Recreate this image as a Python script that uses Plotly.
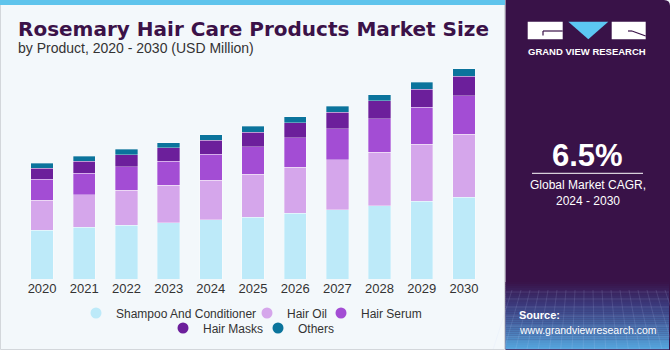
import plotly.graph_objects as go

# ---------------- data ----------------
years = ["2020", "2021", "2022", "2023", "2024", "2025", "2026", "2027", "2028", "2029", "2030"]
shampoo_conditioner = [351, 370, 385, 403, 425, 444, 471, 497, 525, 557, 587]
hair_oil = [215, 234, 251, 268, 284, 306, 330, 356, 383, 410, 449]
hair_serum = [150, 155, 167, 174, 186, 198, 210, 222, 239, 263, 277]
hair_masks = [79, 86, 88, 95, 100, 105, 110, 120, 129, 131, 140]
others = [34, 36, 38.2, 35, 37, 41, 43, 43, 45, 48, 53]

series_names = ["Shampoo And Conditioner", "Hair Oil", "Hair Serum", "Hair Masks", "Others"]
series_values = [shampoo_conditioner, hair_oil, hair_serum, hair_masks, others]
series_colors = ["#BDEAF9", "#D5A6EB", "#A34DD4", "#6C1F9B", "#0B749C"]

label_year = "2022"
cagr_text = "6.5%"
cagr_caption = "Global Market CAGR,<br>2024 - 2030"

# ---------------- layout geometry (pixels) ----------------
W, H = 670, 350
L, R, T, B = 21, 485, 60, 279


def px(x):
    return (x - L) / (R - L)


def py(y):
    return (B - y) / (B - T)


FONT = "Liberation Sans, Arial, sans-serif"

fig = go.Figure()

for name, vals, col in zip(series_names, series_values, series_colors):
    fig.add_trace(go.Bar(
        x=years, y=vals, name=name, marker_color=col,
        marker_line_width=0.6, marker_line_color="rgba(255,255,255,0.55)",
        showlegend=False,
    ))

# legend entries (circle markers); one small legend per entry, laid out in two centred rows
legend_ids = ["legend", "legend2", "legend3", "legend4", "legend5"]
legend_pos = [(98, 313), (269, 313), (343, 313), (185, 328), (280, 328)]  # marker centre, px
for name, col, lid in zip(series_names, series_colors, legend_ids):
    fig.add_trace(go.Scatter(
        x=[years[0]], y=[None], mode="markers", name=name,
        marker=dict(symbol="circle", size=11, color=col),
        legend=lid,
    ))

idx = years.index(label_year)
total = sum(v[idx] for v in series_values)

shapes = []
# left card border + top stripe
shapes.append(dict(type="rect", xref="paper", yref="paper",
                   x0=px(0.5), x1=px(504.5), y0=py(349.5), y1=py(0),
                   line=dict(color="#D3D7DB", width=1), fillcolor="rgba(0,0,0,0)", layer="below"))
shapes.append(dict(type="rect", xref="paper", yref="paper",
                   x0=px(0), x1=px(505), y0=py(5), y1=py(0),
                   line=dict(width=0), fillcolor="#5FC4EC", layer="below"))

# right panel with rounded top-right corner
x0p, x1p, y0p, y1p = px(505.5), px(670), py(350), py(0)
rx = 6 / (R - L)
ry = 6 / (B - T)
path = (f"M {x0p},{y0p} L {x0p},{y1p} L {x1p - rx},{y1p} "
        f"Q {x1p},{y1p} {x1p},{y1p - ry} L {x1p},{y0p} Z")
shapes.append(dict(type="path", xref="paper", yref="paper", path=path,
                   fillcolor="#391248", line=dict(width=0), layer="below"))

# bottom gradient of panel
def lerp(c1, c2, t):
    a = [int(c1[i:i + 2], 16) for i in (1, 3, 5)]
    b = [int(c2[i:i + 2], 16) for i in (1, 3, 5)]
    return "#" + "".join(f"{round(a[k] + (b[k] - a[k]) * t):02x}" for k in range(3))

stops = [(282, "#391248"), (305, "#3B3A7C"), (350, "#55A8E0")]
n = 34
g0, g1 = 282, 349
for k in range(n):
    ya = g0 + (g1 - g0) * k / n
    yb = g0 + (g1 - g0) * (k + 1) / n
    ym = (ya + yb) / 2
    if ym <= stops[1][0]:
        c = lerp(stops[0][1], stops[1][1], (ym - stops[0][0]) / (stops[1][0] - stops[0][0]))
    else:
        c = lerp(stops[1][1], stops[2][1], (ym - stops[1][0]) / (stops[2][0] - stops[1][0]))
    shapes.append(dict(type="rect", xref="paper", yref="paper",
                       x0=px(505.5), x1=px(669), y0=py(yb + 0.3), y1=py(ya),
                       fillcolor=c, line=dict(width=0), layer="below"))

# faint grid texture
for gx in range(512, 670, 9):
    shapes.append(dict(type="line", xref="paper", yref="paper",
                       x0=px(gx), x1=px(gx + (gx - 587) * 0.25), y0=py(290), y1=py(349),
                       line=dict(color="rgba(200,220,255,0.13)", width=1), layer="below"))
for gy in [292, 299, 307, 316, 326, 337, 349]:
    shapes.append(dict(type="line", xref="paper", yref="paper",
                       x0=px(506), x1=px(669), y0=py(gy), y1=py(gy),
                       line=dict(color="rgba(200,220,255,0.13)", width=1), layer="below"))

# logo
shapes.append(dict(type="rect", xref="paper", yref="paper",
                   x0=px(527.7), x1=px(562.7), y0=py(39.3), y1=py(21.7),
                   fillcolor="white", line=dict(width=0)))
shapes.append(dict(type="line", xref="paper", yref="paper",
                   x0=px(543), x1=px(562.7), y0=py(31), y1=py(31),
                   line=dict(color="#391248", width=1.2)))
shapes.append(dict(type="line", xref="paper", yref="paper",
                   x0=px(543), x1=px(543), y0=py(31), y1=py(35.5),
                   line=dict(color="#391248", width=1.2)))
tri = (f"M {px(568.3)},{py(21.7)} L {px(608.3)},{py(21.7)} "
       f"L {px(588.3)},{py(39.3)} Z")
shapes.append(dict(type="path", xref="paper", yref="paper", path=tri,
                   fillcolor="#5CC6F2", line=dict(width=0)))
shapes.append(dict(type="rect", xref="paper", yref="paper",
                   x0=px(611.7), x1=px(645.7), y0=py(39.3), y1=py(21.7),
                   fillcolor="white", line=dict(width=0)))
shapes.append(dict(type="line", xref="paper", yref="paper",
                   x0=px(632), x1=px(645.7), y0=py(31), y1=py(36),
                   line=dict(color="#391248", width=1.2)))
shapes.append(dict(type="line", xref="paper", yref="paper",
                   x0=px(628), x1=px(632), y0=py(31), y1=py(31),
                   line=dict(color="#391248", width=1.2)))

# CAGR separator
shapes.append(dict(type="line", xref="paper", yref="paper",
                   x0=px(532), x1=px(643), y0=py(173.3), y1=py(173.3),
                   line=dict(color="white", width=1)))

annotations = [
    dict(text="<b>Rosemary Hair Care Products Market Size</b>", x=px(15.5), y=py(28.5),
         xref="paper", yref="paper", xanchor="left", yanchor="middle", showarrow=False,
         font=dict(family="DejaVu Sans, sans-serif", size=20, color="#3B1248")),
    dict(text="by Product, 2020 - 2030 (USD Million)", x=px(15.5), y=py(48),
         xref="paper", yref="paper", xanchor="left", yanchor="middle", showarrow=False,
         font=dict(family=FONT, size=14, color="#333333")),
    dict(text=f"${total:.1f}M", x=label_year, y=total, xref="x", yref="y",
         xanchor="center", yanchor="bottom", yshift=6, showarrow=False,
         font=dict(family=FONT, size=13, color="#333333")),
    dict(text="<b>GRAND VIEW RESEARCH</b>", x=px(587.3), y=py(51.7),
         xref="paper", yref="paper", xanchor="center", yanchor="middle", showarrow=False,
         font=dict(family=FONT, size=9.5, color="white")),
    dict(text=f"<b>{cagr_text}</b>", x=px(587.5), y=py(155.5),
         xref="paper", yref="paper", xanchor="center", yanchor="middle", showarrow=False,
         font=dict(family=FONT, size=31, color="white")),
    dict(text=cagr_caption, x=px(587.5), y=py(192.5),
         xref="paper", yref="paper", xanchor="center", yanchor="middle", showarrow=False,
         font=dict(family=FONT, size=12, color="white")),
    dict(text="<b>Source:</b>", x=px(516.5), y=py(315),
         xref="paper", yref="paper", xanchor="left", yanchor="middle", showarrow=False,
         font=dict(family=FONT, size=11, color="white")),
    dict(text="www.grandviewresearch.com", x=px(516.5), y=py(330),
         xref="paper", yref="paper", xanchor="left", yanchor="middle", showarrow=False,
         font=dict(family=FONT, size=10.5, color="white")),
]

legend_layout = {}
MARKER_OFFSET = 20  # approx. px from legend box left edge to legend marker centre
for lid, (mx, my) in zip(legend_ids, legend_pos):
    legend_layout[lid] = dict(
        orientation="h", xref="container", yref="container",
        x=(mx - MARKER_OFFSET - 2) / W, xanchor="left",
        y=1 - my / H, yanchor="middle",
        font=dict(family=FONT, size=12, color="#333333"), bgcolor="rgba(0,0,0,0)",
        itemwidth=30, tracegroupgap=0, borderwidth=0,
    )

fig.update_layout(
    width=W, height=H,
    margin=dict(l=L, r=W - R, t=T, b=H - B, pad=0, autoexpand=False),
    paper_bgcolor="#F3F8FB", plot_bgcolor="#F3F8FB",
    barmode="stack", bargap=0.47,
    font=dict(family=FONT, size=13, color="#333333"),
    xaxis=dict(type="category", categoryorder="array", categoryarray=years,
               range=[-0.5, len(years) - 0.5], showgrid=False, zeroline=False, showline=False,
               ticks="", tickfont=dict(size=13, color="#333333"), fixedrange=True,
               automargin=False),
    yaxis=dict(range=[0, 1569], visible=False, showgrid=False, zeroline=False, fixedrange=True,
               automargin=False),
    shapes=shapes,
    annotations=annotations,
    **legend_layout,
)

fig.write_html("out.html")
